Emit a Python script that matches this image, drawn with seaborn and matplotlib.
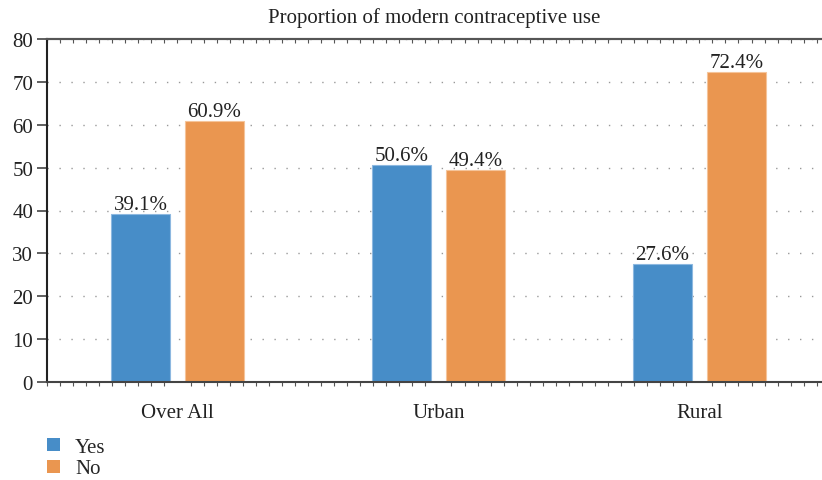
import matplotlib
matplotlib.use("Agg")
import matplotlib.pyplot as plt
import seaborn as sns
import pandas as pd
from matplotlib.ticker import MultipleLocator
from matplotlib.patches import Patch

categories = ["Over All", "Urban", "Rural"]
yes_values = [39.1, 50.6, 27.6]
no_values = [60.9, 49.4, 72.4]
series_names = ["Yes", "No"]
y_ticks = [0, 10, 20, 30, 40, 50, 60, 70, 80]

df = pd.DataFrame({
    "Area": categories * 2,
    "Use": [series_names[0]] * 3 + [series_names[1]] * 3,
    "Value": yes_values + no_values,
})

sns.set_theme(style="white")
plt.rcParams["font.family"] = ["Liberation Serif", "DejaVu Serif"]

colors = ["#478DC8", "#EA9650"]
FS = 15

fig = plt.figure(figsize=(8.22, 4.81), dpi=100)
ax = fig.add_axes([47/822, 1 - 383/481, 775/822, 343/481])

sns.barplot(data=df, x="Area", y="Value", hue="Use", palette=colors,
            saturation=1, width=0.567, gap=0.2, ax=ax, legend=False,
            linewidth=0.8)
for i, cont in enumerate(ax.containers):
    for p in cont:
        p.set_edgecolor(["#8DB8E0", "#F5C49A"][i])
    ax.bar_label(cont, labels=[f"{v:.1f}%" for v in cont.datavalues],
                 fontsize=FS, color="#222222", padding=0)

ax.set_xlim(-0.5, 2.47)
ax.set_ylim(0, 80)
ax.set_yticks(y_ticks)
ax.set_xlabel("")
ax.set_ylabel("")
ax.set_title("Proportion of modern contraceptive use", fontsize=FS, pad=12, color="#222222")

ax.yaxis.grid(True, linestyle=(0, (1, 7.6)), color="#999999", linewidth=1.0)
ax.set_axisbelow(True)

ax.spines["right"].set_visible(False)
ax.spines["top"].set_visible(True)
ax.spines["top"].set_color("#555555")
ax.spines["top"].set_linewidth(1.5)
ax.spines["left"].set_color("#222222")
ax.spines["left"].set_linewidth(1.5)
ax.spines["bottom"].set_color("#444444")
ax.spines["bottom"].set_linewidth(1.5)

ax.tick_params(axis="y", which="major", left=True, length=7, width=1.2,
               color="#444444", labelsize=FS, labelcolor="#222222", pad=3)
ax.tick_params(axis="x", which="major", bottom=False, labelsize=FS,
               labelcolor="#222222", pad=9)
ax.xaxis.set_minor_locator(MultipleLocator(0.05))
ax.tick_params(axis="x", which="minor", bottom=True, top=False, direction="out",
               length=3, width=0.8, color="#555555")

sec = ax.secondary_xaxis("top")
sec.xaxis.set_major_locator(MultipleLocator(0.05))
sec.tick_params(axis="x", which="major", direction="in", length=3, width=0.8,
                color="#555555", labeltop=False)
sec.spines["top"].set_color("#555555")
sec.spines["top"].set_linewidth(1.5)

handles = [Patch(facecolor=c, edgecolor="none") for c in colors]
fig.legend(handles, series_names, loc="upper left", bbox_to_anchor=(47/822, 1 - 439/481),
           frameon=False, fontsize=FS, handlelength=0.6, handleheight=0.6,
           handletextpad=0.75, labelspacing=0.12, borderaxespad=0, borderpad=0)

fig.savefig("out.png", dpi=100)
